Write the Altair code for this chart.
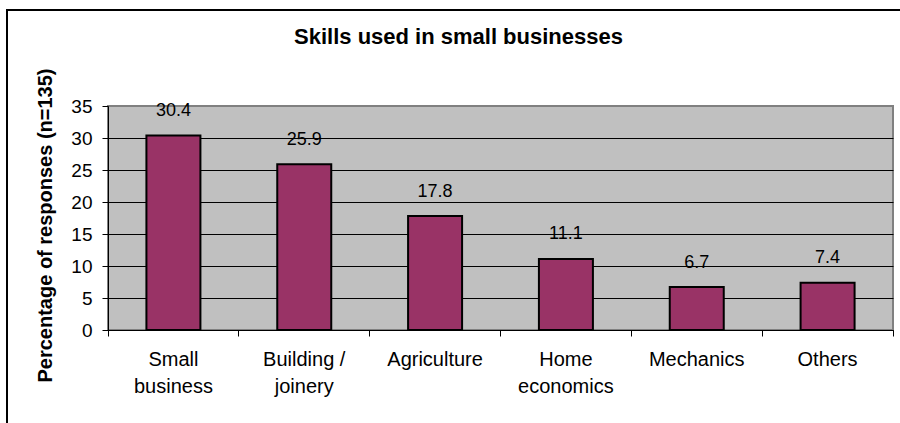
import altair as alt
import pandas as pd

categories = ["Small\nbusiness", "Building /\njoinery", "Agriculture",
              "Home\neconomics", "Mechanics", "Others"]
percentages = [30.4, 25.9, 17.8, 11.1, 6.7, 7.4]
y_ticks = [0, 5, 10, 15, 20, 25, 30, 35]

df = pd.DataFrame({"skill": categories, "pct": percentages})
frame_df = pd.DataFrame({"k": [0]})

FONT = "Liberation Sans"

x_enc = alt.X(
    "skill:N", sort=categories, title=None,
    scale=alt.Scale(paddingInner=0, paddingOuter=0),
    axis=alt.Axis(
        labelAngle=0, labelExpr="split(datum.label, '\\n')",
        bandPosition=1, tickExtra=True, tickSize=6, tickColor="black",
        domainColor="black", domainWidth=1, grid=False,
        labelFont=FONT, labelFontSize=20, labelColor="black",
        labelPadding=13, labelLineHeight=27, labelBaseline="top",
    ),
)
y_enc = alt.Y(
    "pct:Q", title="Percentage of responses (n=135)",
    scale=alt.Scale(domain=[0, 35], nice=False),
    axis=alt.Axis(
        values=y_ticks, tickCount=8, labelOverlap=False,
        tickSize=6, tickColor="black", domainColor="black",
        gridColor={"condition": {"test": "datum.value === 35", "value": "#808080"}, "value": "black"},
        gridWidth=1,
        labelFont=FONT, labelFontSize=19, labelColor="black", labelPadding=10,
        titleFont=FONT, titleFontSize=20, titleFontWeight="bold", titleColor="black",
        titleX=-63, titleY=119, titleAngle=270, titleAlign="center",
        titleBaseline="middle",
    ),
)

frame = alt.Chart(frame_df).mark_rect(
    fill="transparent", stroke="black", strokeWidth=2
).encode(
    x=alt.value(-101), x2=alt.value(1000), y=alt.value(-96), y2=alt.value(700)
)

bars = alt.Chart(df).mark_bar(
    width=54, color="#993366", stroke="black", strokeWidth=2
).encode(x=x_enc, y=y_enc)

labels = alt.Chart(df).mark_text(
    font=FONT, fontSize=18, baseline="alphabetic", dy=-19.5, color="black"
).encode(
    x=x_enc,
    y=y_enc,
    text=alt.Text("pct:Q", format=".1f"),
)

chart = alt.layer(frame, bars, labels).properties(
    width=785, height=224,
    padding={"left": 108, "top": 106, "right": 7, "bottom": 93},
    autosize=alt.AutoSizeParams(type="none"),
    title=alt.TitleParams(
        "Skills used in small businesses", font=FONT, fontSize=22,
        fontWeight="bold", color="black", anchor="middle", frame="group",
        dx=-42, dy=57, offset=0, baseline="alphabetic",
    ),
).configure(
    background="white"
).configure_view(
    fill="#C0C0C0", stroke="#808080", strokeWidth=2
)

chart.save("out.html", embed_options={"renderer": "svg", "actions": False})
